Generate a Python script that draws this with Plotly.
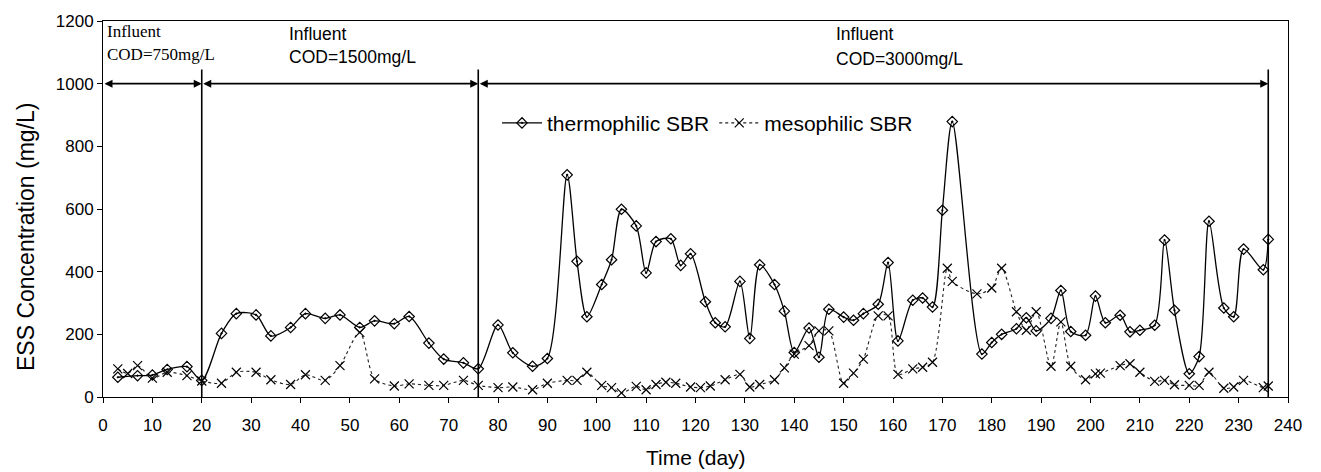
import plotly.graph_objects as go

# ---- data ----
thermo_day = [3, 7, 10, 13, 17, 20, 24, 27, 31, 34, 38, 41, 45, 48, 52, 55, 59, 62, 66, 69,
              73, 76, 80, 83, 87, 90, 94, 96, 98, 101, 103, 105, 108, 110, 112, 115, 117, 119,
              122, 124, 126, 129, 131, 133, 136, 138, 140, 143, 145, 147, 150, 152, 154, 157,
              159, 161, 164, 166, 168, 170, 172, 178, 180, 182, 185, 187, 189, 192, 194, 196,
              199, 201, 203, 206, 208, 210, 213, 215, 217, 220, 222, 224, 227, 229, 231, 235, 236]
thermo_ess = [63, 68, 70, 88, 97, 53, 203, 266, 262, 195, 222, 266, 251, 262, 222, 243, 234, 257, 172, 121,
              109, 90, 230, 141, 98, 123, 709, 433, 256, 359, 438, 599, 546, 396, 496, 505, 420, 457,
              304, 237, 224, 369, 187, 422, 359, 274, 142, 220, 127, 280, 255, 245, 266, 296,
              429, 179, 309, 316, 287, 596, 879, 137, 174, 200, 218, 253, 211, 251, 340, 209,
              197, 322, 237, 261, 208, 213, 229, 501, 277, 74, 129, 561, 284, 256, 472, 406, 503]

meso_day = [3, 5, 7, 10, 13, 17, 20, 24, 27, 31, 34, 38, 41, 45, 48, 52, 55, 59, 62, 66, 69, 73,
            76, 80, 83, 87, 90, 94, 96, 98, 101, 103, 105, 108, 110, 112, 114, 116, 119, 121, 123,
            126, 129, 131, 133, 136, 138, 140, 143, 145, 147, 150, 152, 154, 157, 159, 161, 164,
            166, 168, 171, 172, 177, 180, 182, 185, 187, 189, 192, 194, 196, 199, 201, 202, 206,
            208, 210, 213, 215, 217, 220, 222, 224, 227, 229, 231, 235, 236]
meso_ess = [90, 75, 100, 60, 79, 68, 51, 44, 79, 79, 55, 40, 71, 53, 100, 206, 58, 35, 42, 37, 37, 53,
            37, 30, 32, 23, 44, 53, 53, 79, 37, 30, 13, 34, 23, 40, 47, 44, 32, 30, 35,
            55, 72, 32, 40, 55, 93, 137, 164, 211, 211, 44, 76, 121, 259, 259, 72, 90,
            95, 111, 411, 369, 329, 348, 411, 272, 213, 272, 98, 240, 98, 55, 74, 76, 100,
            106, 79, 50, 53, 39, 37, 37, 79, 28, 32, 53, 30, 35]

phase_bounds = [0, 20, 76, 236]
phase_line1 = ["Influent", "Influent", "Influent"]
phase_line2 = ["COD=750mg/L", "COD=1500mg/L", "COD=3000mg/L"]
phase_label_x = [0.4, 37.2, 148]

FONT = "Arial, Liberation Sans, sans-serif"
SERIF = "Liberation Serif, Times New Roman, serif"

fig = go.Figure()
fig.add_trace(go.Scatter(
    x=thermo_day, y=thermo_ess, name="thermophilic SBR", mode="lines+markers",
    line=dict(color="black", width=1.3, shape="spline", smoothing=0.8),
    marker=dict(symbol="diamond-open-dot", size=8, color="black", line=dict(width=1.2, color="black")),
))
fig.add_trace(go.Scatter(
    x=meso_day, y=meso_ess, name="mesophilic SBR", mode="lines+markers",
    line=dict(color="#222222", width=1.1, shape="spline", smoothing=0.8, dash="dot"),
    marker=dict(symbol="x-thin", size=9, color="black", line=dict(width=1.2, color="black")),
))

# vertical phase separators
for b in phase_bounds[1:]:
    fig.add_shape(type="line", xref="x", yref="y", x0=b, x1=b, y0=0, y1=1045,
                  line=dict(color="black", width=1.6))

# double arrows between phase bounds
for a, b in zip(phase_bounds[:-1], phase_bounds[1:]):
    fig.add_annotation(x=b, y=1000, ax=a, ay=1000, xref="x", yref="y", axref="x", ayref="y",
                       text="", showarrow=True, arrowhead=2, arrowside="end+start",
                       arrowsize=1, arrowwidth=1.6, arrowcolor="black")

# phase labels (two lines each)
line1_y = [1168, 1160, 1160]
line2_y = [1092, 1085, 1079]
for i in range(3):
    fam, sz = (SERIF, 17) if i == 0 else (FONT, 17.5)
    fig.add_annotation(x=phase_label_x[i], y=line1_y[i], xref="x", yref="y", text=phase_line1[i],
                       showarrow=False, xanchor="left", yanchor="middle",
                       font=dict(family=fam, size=sz, color="black"))
    fig.add_annotation(x=phase_label_x[i], y=line2_y[i], xref="x", yref="y", text=phase_line2[i],
                       showarrow=False, xanchor="left", yanchor="middle",
                       font=dict(family=fam, size=sz, color="black"))

# axis titles
fig.add_annotation(x=0.5, y=-0.161, xref="paper", yref="paper", text="Time (day)",
                   showarrow=False, xanchor="center", yanchor="middle",
                   font=dict(family=FONT, size=21, color="black"))
fig.add_annotation(x=-0.065, y=0.4255, xref="paper", yref="paper", text="ESS Concentration (mg/L)",
                   showarrow=False, xanchor="center", yanchor="middle", textangle=-90,
                   font=dict(family=FONT, size=23, color="black"))

fig.update_layout(
    width=1321, height=472,
    margin=dict(l=103, r=33, t=17, b=75),
    paper_bgcolor="white", plot_bgcolor="white",
    font=dict(family=FONT, size=17, color="black"),
    showlegend=True,
    legend=dict(orientation="h", x=0.3325, y=0.728, xanchor="left", yanchor="middle",
                font=dict(size=21, family=FONT), bgcolor="rgba(0,0,0,0)",
                itemwidth=40, tracegroupgap=0),
)
fig.update_xaxes(range=[0, 240], dtick=10, tick0=0, showgrid=False, zeroline=False,
                 showline=True, linecolor="black", linewidth=1, mirror=True,
                 ticks="outside", ticklen=5, tickcolor="black", ticklabelstandoff=8)
fig.update_yaxes(range=[0, 1200], dtick=200, tick0=0, showgrid=False, zeroline=False,
                 showline=True, linecolor="black", linewidth=1, mirror=True,
                 ticks="outside", ticklen=5, tickcolor="black")

fig.write_html("out.html")
